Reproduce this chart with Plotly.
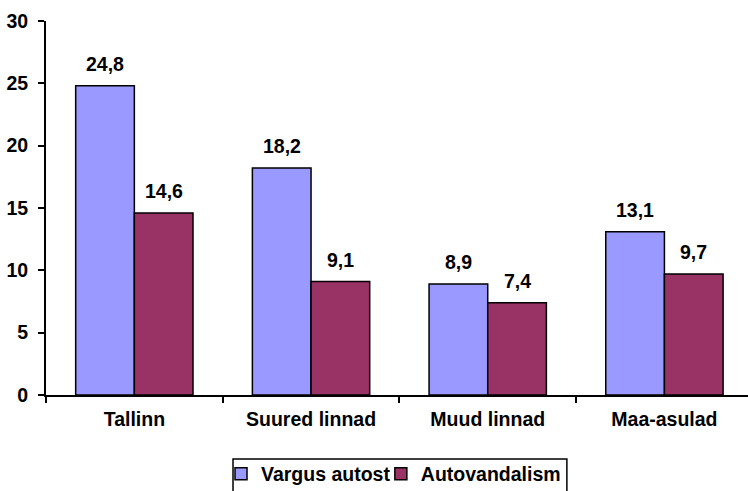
import plotly.graph_objects as go

categories = ["Tallinn", "Suured linnad", "Muud linnad", "Maa-asulad"]
vargus = [24.8, 18.2, 8.9, 13.1]
autovandalism = [14.6, 9.1, 7.4, 9.7]
series_names = ["Vargus autost", "Autovandalism"]
y_ticks = [0, 5, 10, 15, 20, 25, 30]

FONT = dict(family="Arial, Liberation Sans, sans-serif", size=19.5, color="black", weight="bold")
colors = ["#9999FF", "#993366"]

fig = go.Figure()
legend_ids = ["legend", "legend2"]
for name, vals, col, lg in zip(series_names, [vargus, autovandalism], colors, legend_ids):
    fig.add_trace(go.Bar(
        x=categories, y=vals, name=name, legend=lg,
        marker=dict(color=col, line=dict(color="black", width=1.5)),
    ))

def fmt(v):
    return f"{v:.1f}".replace(".", ",")

bar_w = 0.664 / 2
for k, vals in enumerate([vargus, autovandalism]):
    off = (k - 0.5) * bar_w
    for i, v in enumerate(vals):
        fig.add_annotation(x=i + off, y=v, text=fmt(v), showarrow=False,
                           yanchor="bottom", yshift=9, font=FONT)

# legend frame
fig.add_shape(type="rect", xref="paper", yref="paper",
              x0=0.2664, x1=0.742, y0=-0.171, y1=-0.32,
              line=dict(color="black", width=1.5), fillcolor="rgba(0,0,0,0)")

leg_common = dict(orientation="h", xanchor="left", y=-0.159, yanchor="top",
                  borderwidth=0, bgcolor="rgba(0,0,0,0)", font=FONT,
                  itemwidth=30, tracegroupgap=0)

fig.update_layout(
    width=748, height=491,
    margin=dict(l=46, r=0, t=21, b=96, autoexpand=False),
    plot_bgcolor="white", paper_bgcolor="white",
    font=FONT,
    bargap=0.336, bargroupgap=0,
    showlegend=True,
    legend=dict(x=0.2493, **leg_common),
    legend2=dict(x=0.477, **leg_common),
    separators=", ",
)
fig.update_xaxes(range=[-0.5, 3.473], showline=True, linecolor="black", linewidth=2,
                 ticks="outside", ticklen=6, tickwidth=2, tickcolor="black",
                 tickson="boundaries", showgrid=False, ticklabelstandoff=6)
fig.update_yaxes(range=[0, 30], tickvals=y_ticks, showline=True, linecolor="black", linewidth=2,
                 ticks="outside", ticklen=6, tickwidth=2, tickcolor="black",
                 showgrid=False, zeroline=False, ticklabelstandoff=6)

fig.write_html("out.html", config={"displayModeBar": False},
               post_script="document.body.style.margin='0';document.body.style.overflow='hidden';")
